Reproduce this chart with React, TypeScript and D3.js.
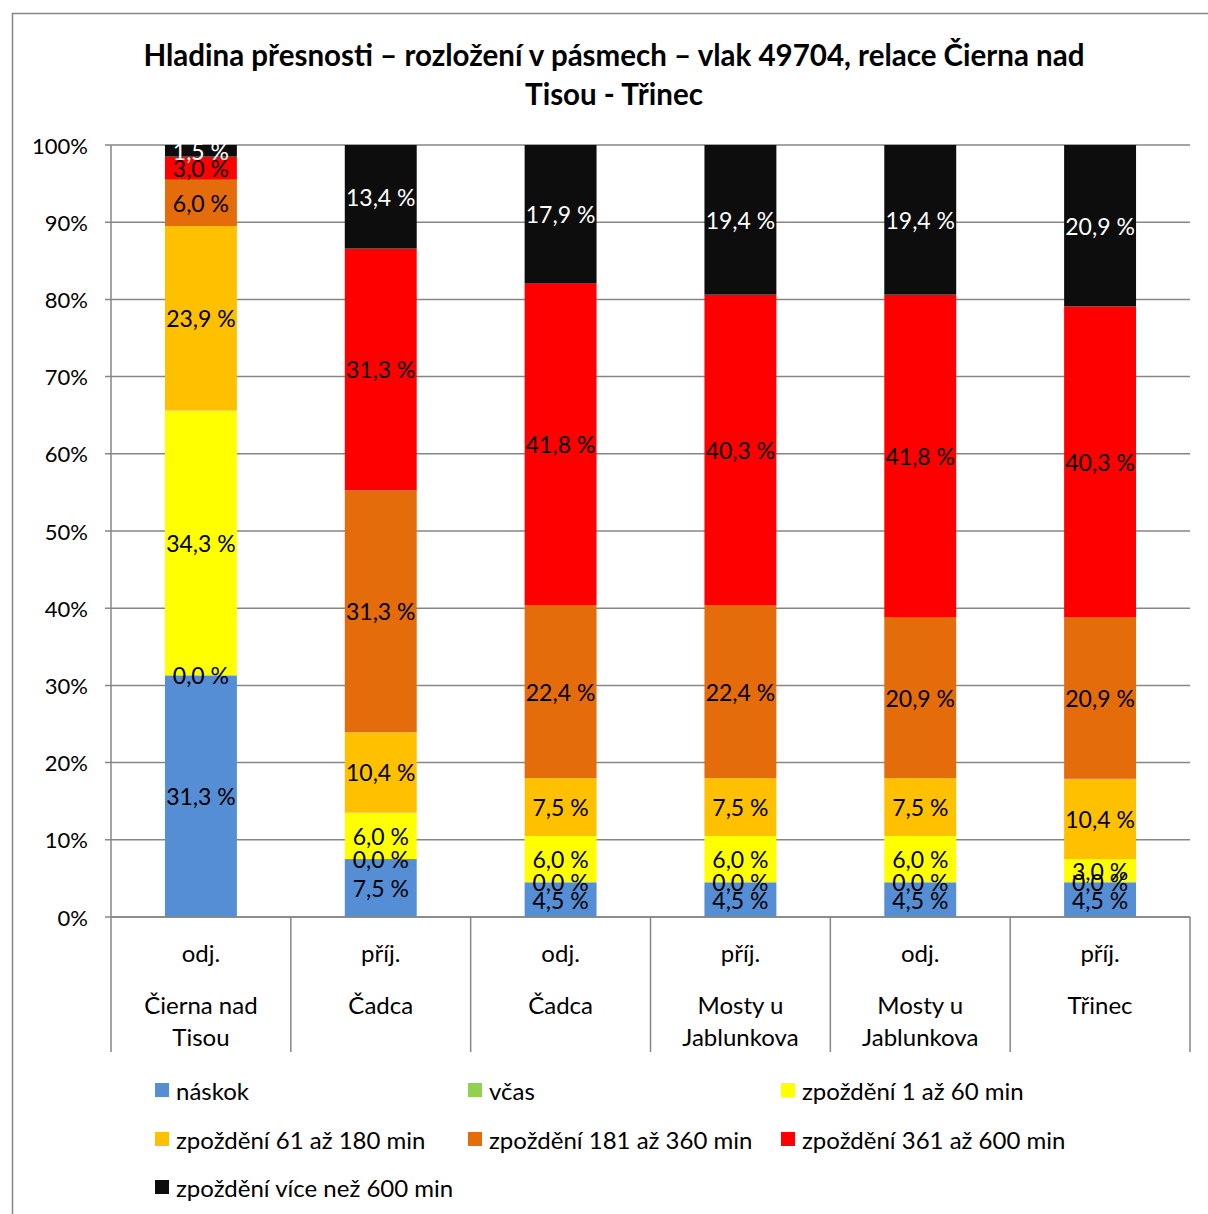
import React from "react";
import * as d3 from "d3";

const categories = [
  ["odj.", "Čierna nad", "Tisou"],
  ["příj.", "Čadca"],
  ["odj.", "Čadca"],
  ["příj.", "Mosty u", "Jablunkova"],
  ["odj.", "Mosty u", "Jablunkova"],
  ["příj.", "Třinec"],
];
const seriesNames = [
  "náskok",
  "včas",
  "zpoždění 1 až 60 min",
  "zpoždění 61 až 180 min",
  "zpoždění 181 až 360 min",
  "zpoždění 361 až 600 min",
  "zpoždění více než 600 min",
];
const seriesColors = ["#558ED5", "#92D050", "#FFFF00", "#FFC000", "#E46C0A", "#FF0000", "#0D0D0D"];
const naskok = [31.3, 7.5, 4.5, 4.5, 4.5, 4.5];
const vcas = [0, 0, 0, 0, 0, 0];
const zp1_60 = [34.3, 6.0, 6.0, 6.0, 6.0, 3.0];
const zp61_180 = [23.9, 10.4, 7.5, 7.5, 7.5, 10.4];
const zp181_360 = [6.0, 31.3, 22.4, 22.4, 20.9, 20.9];
const zp361_600 = [3.0, 31.3, 41.8, 40.3, 41.8, 40.3];
const zp600 = [1.5, 13.4, 17.9, 19.4, 19.4, 20.9];
const yTicks = [0, 0.1, 0.2, 0.3, 0.4, 0.5, 0.6, 0.7, 0.8, 0.9, 1.0];
const titleLines = ["Hladina přesnosti – rozložení v pásmech – vlak 49704, relace Čierna nad", "Tisou - Třinec"];

const FONT = "Lato, 'Open Sans', sans-serif";

export default function App() {
  const W = 1208, H = 1214;
  const left = 111, right = 1190, top = 145, bottom = 917;
  const allSeries = [naskok, vcas, zp1_60, zp61_180, zp181_360, zp361_600, zp600];
  const idx = categories.map((_, i) => i);
  const x = d3.scaleBand<number>().domain(idx).range([left, right]).paddingInner(0).paddingOuter(0);
  const y = d3.scaleLinear().domain([0, 1]).range([bottom, top]);
  const barW = x.bandwidth() * 0.4;

  const rows = idx.map((i) => {
    const r: any = { i };
    seriesNames.forEach((n, k) => (r[n] = allSeries[k][i]));
    return r;
  });
  const stacked = d3.stack().keys(seriesNames).offset(d3.stackOffsetExpand)(rows);
  const fmt = (v: number) => v.toFixed(1).replace(".", ",") + " %";

  const legendPos = [
    [155, 1090], [468, 1090], [781, 1090],
    [155, 1139], [468, 1139], [781, 1139],
    [155, 1187],
  ];

  return (
    <svg width={W} height={H} style={{ position: "absolute", left: 0, top: 0, background: "#fff" }} fontFamily={FONT}>
      <rect x={0} y={0} width={W} height={H} fill="#fff" />
      <path d={`M12.5,${H} V13.5 H${W}`} fill="none" stroke="#868686" strokeWidth={1.5} />
      {titleLines.map((t, k) => (
        <text key={k} x={614} y={54 + k * 39} textAnchor="middle" dominantBaseline="central" fontSize={29.5} fontWeight="bold" fill="#000">
          {t}
        </text>
      ))}
      {yTicks.map((t) => (
        <g key={t}>
          <line x1={left - 6} x2={right} y1={y(t)} y2={y(t)} stroke="#868686" strokeWidth={1.5} />
          <text x={88} y={y(t)} textAnchor="end" dominantBaseline="central" fontSize={22} fill="#000">
            {Math.round(t * 100) + "%"}
          </text>
        </g>
      ))}
      {stacked.map((s, k) => (
        <g key={k}>
          {s.map((d, i) => (
            <rect key={i} x={x(i)! + (x.bandwidth() - barW) / 2} y={y(d[1])} width={barW} height={y(d[0]) - y(d[1])} fill={seriesColors[k]} />
          ))}
        </g>
      ))}
      {stacked.map((s, k) => (
        <g key={"l" + k}>
          {s.map((d, i) => (
            <text key={i} x={x(i)! + x.bandwidth() / 2} y={(y(d[0]) + y(d[1])) / 2} textAnchor="middle" dominantBaseline="central" fontSize={23} fill={k === 6 ? "#fff" : "#000"}>
              {fmt(allSeries[k][i])}
            </text>
          ))}
        </g>
      ))}
      <line x1={left} x2={right} y1={bottom} y2={bottom} stroke="#868686" strokeWidth={1.5} />
      <line x1={left} x2={left} y1={top} y2={bottom} stroke="#868686" strokeWidth={1.5} />
      {[...idx, idx.length].map((i) => {
        const xx = i < idx.length ? x(i)! : right;
        return <line key={"s" + i} x1={xx} x2={xx} y1={bottom} y2={1052} stroke="#868686" strokeWidth={1.5} />;
      })}
      {categories.map((c, i) => (
        <g key={"c" + i}>
          {c.map((t, j) => (
            <text key={j} x={x(i)! + x.bandwidth() / 2} y={j === 0 ? 952 : 1004 + (j - 1) * 32} textAnchor="middle" dominantBaseline="central" fontSize={24} fill="#000">
              {t}
            </text>
          ))}
        </g>
      ))}
      {seriesNames.map((n, k) => (
        <g key={"lg" + k}>
          <rect x={legendPos[k][0]} y={legendPos[k][1] - 7} width={14} height={14} fill={seriesColors[k]} />
          <text x={legendPos[k][0] + 21} y={legendPos[k][1]} dominantBaseline="central" fontSize={24} fill="#000">
            {n}
          </text>
        </g>
      ))}
    </svg>
  );
}
